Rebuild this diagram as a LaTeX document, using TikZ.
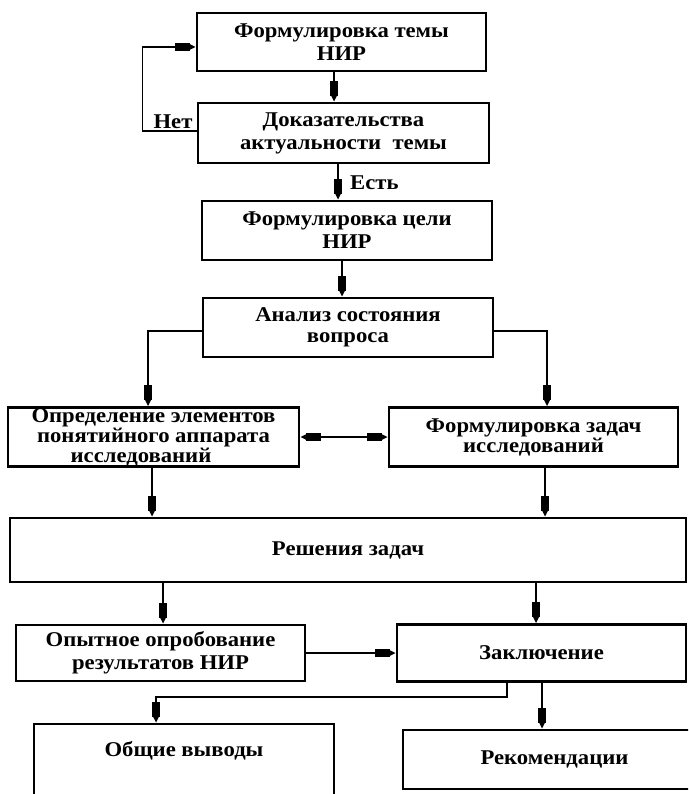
\documentclass[tikz,border=0pt]{standalone}
\usepackage{fontspec}
\setmainfont{Liberation Serif}[FakeStretch=1.08]
\usetikzlibrary{arrows.meta}
\begin{document}
\begin{tikzpicture}[x=1pt,y=-1pt,
  blk/.tip={Rectangle[length=15pt,width=7.5pt,sep=0pt] Triangle[length=6pt,width=5.5pt]},
  box/.style={draw, line width=2.8pt, align=center, inner sep=0pt,
    font=\fontsize{21}{23}\selectfont\bfseries},
  link/.style={line width=1.3pt, -{blk}},
  lbl/.style={inner sep=0pt, font=\fontsize{21}{23}\selectfont\bfseries}]
\useasboundingbox (0,0) rectangle (688,794);
\fill[white] (0,0) rectangle (688,794);
\clip (0,0) rectangle (688,794);

% blocks of the research workflow
\node[box, minimum width=289pt, minimum height=58pt] (b1) at (341.5,42) {Формулировка темы\\НИР};
\node[box, minimum width=291pt, minimum height=60pt] (b2) at (343.5,133) {Доказательства\\актуальности\ \ темы};
\node[box, minimum width=290pt, minimum height=59pt] (b3) at (347,230.5) {Формулировка цели\\НИР};
\node[box, minimum width=290pt, minimum height=59pt,
  font=\fontsize{21}{21}\selectfont\bfseries] (b4) at (348,327.5) {Анализ состояния\\вопроса};
\node[box, minimum width=291pt, minimum height=59pt,
  font=\fontsize{21}{17.5}\selectfont\bfseries] (b5) at (153.5,437) {Определение элементов\\понятийного аппарата\\исследований\hspace*{25pt}};
\node[box, minimum width=289pt, minimum height=59pt,
  font=\fontsize{21}{18}\selectfont\bfseries] (b6) at (533.5,437) {Формулировка задач\\исследований};
\node[box, minimum width=676pt, minimum height=64pt] (b7) at (348,550) {Решения задач};
\node[box, minimum width=289pt, minimum height=56pt] (b8) at (160.5,653) {Опытное опробование\\результатов НИР};
\node[box, minimum width=289pt, minimum height=57pt] (b9) at (541.5,653) {Заключение};
\node[box, minimum width=300pt, text height=32pt, text depth=64pt] (b10) at (184,772) {Общие выводы};
\node[box, minimum width=303pt, minimum height=59pt] (b11) at (554.5,759.5) {Рекомендации};

% connectors
\draw[link] ([xshift=-7.5pt]b1.south) -- ([xshift=-9.5pt]b2.north);
\draw[link] ([yshift=2pt]b2.west) -- ++(-54,0) |- ([yshift=-5pt]b1.west);
\node[lbl, anchor=south east] (no) at ([xshift=-4pt,yshift=4pt]b2.west) {Нет};
\draw[link] ([xshift=-5.5pt]b2.south) -- ([xshift=-9pt]b3.north);
\node[lbl, anchor=base west] (yes) at ([xshift=6.5pt,yshift=-25pt]b2.south) {Есть};
\draw[link] ([xshift=-5pt]b3.south) -- ([xshift=-6pt]b4.north);
\draw[link] ([yshift=-3.5pt]b4.west) -| ([xshift=-5.5pt]b5.north);
\draw[link] ([yshift=-3.5pt]b4.east) -| ([xshift=13.5pt]b6.north);
\draw[line width=1.3pt, {blk}-{blk}] (b5) -- (b6);
\draw[link] ([xshift=-1.5pt]b5.south) -- ([xshift=-196pt]b7.north);
\draw[link] ([xshift=11.5pt]b6.south) -- ([xshift=197pt]b7.north);
\draw[link] ([xshift=-185pt]b7.south) -- ([xshift=2.5pt]b8.north);
\draw[link] ([xshift=188pt]b7.south) -- ([xshift=-5.5pt]b9.north);
\draw[link] (b8) -- (b9);
\draw[link] ([xshift=-34.5pt]b9.south) -- ++(0,14) -| ([xshift=-28pt]b10.north);
\draw[link] ([xshift=0.5pt]b9.south) -- ([xshift=-12.5pt]b11.north);
\end{tikzpicture}
\end{document}
